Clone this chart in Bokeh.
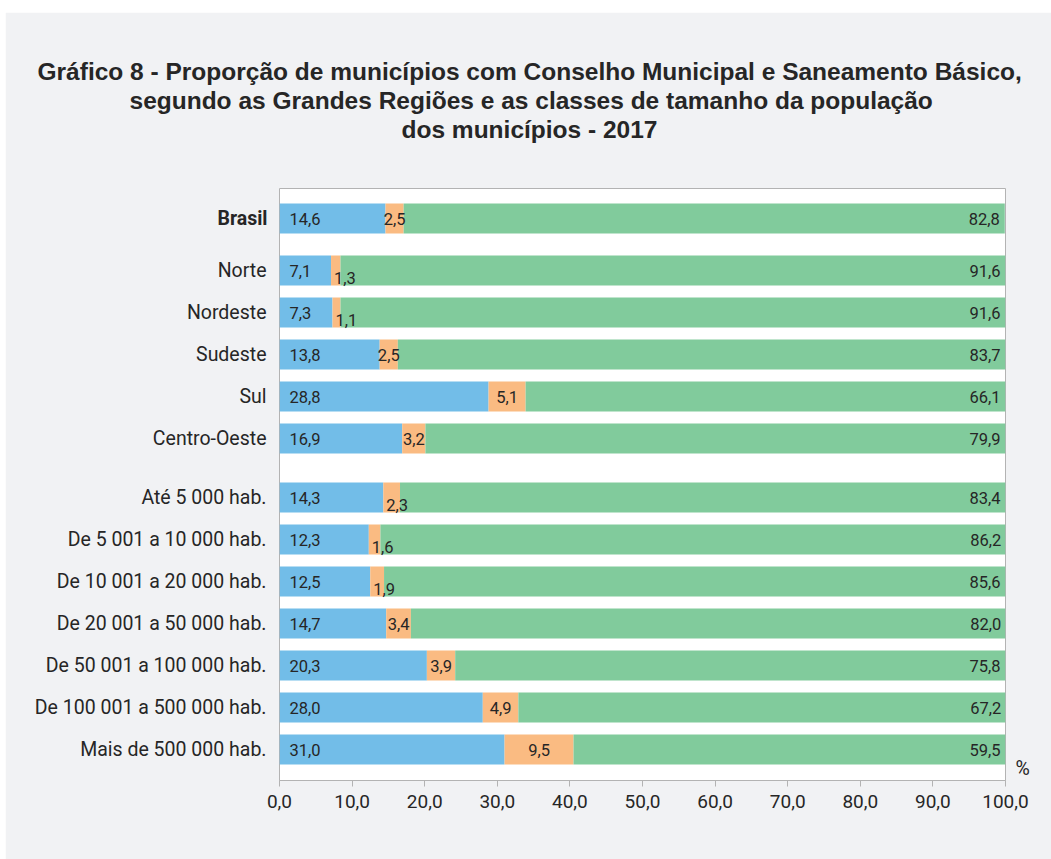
from bokeh.plotting import figure
from bokeh.models import ColumnDataSource, Range1d, FixedTicker, Title, LinearAxis, Spacer
from bokeh.layouts import column, row
from bokeh.embed import file_html
from bokeh.resources import INLINE
from bokeh.core.properties import value

categories = [
    "Brasil", "Norte", "Nordeste", "Sudeste", "Sul", "Centro-Oeste",
    "Até 5 000 hab.", "De 5 001 a 10 000 hab.", "De 10 001 a 20 000 hab.",
    "De 20 001 a 50 000 hab.", "De 50 001 a 100 000 hab.",
    "De 100 001 a 500 000 hab.", "Mais de 500 000 hab.",
]
serie_azul = [14.6, 7.1, 7.3, 13.8, 28.8, 16.9, 14.3, 12.3, 12.5, 14.7, 20.3, 28.0, 31.0]
serie_laranja = [2.5, 1.3, 1.1, 2.5, 5.1, 3.2, 2.3, 1.6, 1.9, 3.4, 3.9, 4.9, 9.5]
serie_verde = [82.8, 91.6, 91.6, 83.7, 66.1, 79.9, 83.4, 86.2, 85.6, 82.0, 75.8, 67.2, 59.5]
x_ticks = [0, 10, 20, 30, 40, 50, 60, 70, 80, 90, 100]
unit_label = "%"

title_lines = [
    "Gráfico 8 - Proporção de municípios com Conselho Municipal e Saneamento Básico,",
    "segundo as Grandes Regiões e as classes  de tamanho da população",
    "dos municípios - 2017",
]

BLUE = "#72bde8"
ORANGE = "#fabb82"
GREEN = "#81cb9c"
BG = "#f1f2f4"
TXT = "#262626"
FONT = "Roboto"
TFONT = "Liberation Sans"
LBL_SIZE = "19.5px"

def fmt(v):
    return f"{v:.1f}".replace(".", ",")

# row layout (frame pixel units, top = 0)
n = len(categories)
ypos = [30 + 42 * i + (10 if i >= 1 else 0) + (17 if i >= 6 else 0) for i in range(n)]

a_end = serie_azul
l_end = [a + l for a, l in zip(serie_azul, serie_laranja)]
v_end = [a + l + v for a, l, v in zip(serie_azul, serie_laranja, serie_verde)]

src = ColumnDataSource(dict(
    y=ypos, zero=[0] * n, a_end=a_end, l_end=l_end, v_end=v_end,
    a_txt=[fmt(v) for v in serie_azul],
    v_txt=[fmt(v) for v in serie_verde],
))

small = [i for i in range(n) if serie_laranja[i] < 2.5]
big = [i for i in range(n) if serie_laranja[i] >= 2.5]
src_ls = ColumnDataSource(dict(
    x=[a_end[i] for i in small], y=[ypos[i] for i in small],
    t=[fmt(serie_laranja[i]) for i in small]))
src_lb = ColumnDataSource(dict(
    x=[(a_end[i] + l_end[i]) / 2 for i in big], y=[ypos[i] for i in big],
    t=[fmt(serie_laranja[i]) for i in big]))

p = figure(width=1046, height=847, output_backend="svg", toolbar_location=None,
           x_range=Range1d(0, 100), y_range=Range1d(592, 0), title=None,
           min_border_left=274, min_border_right=46, min_border_top=176,
           min_border_bottom=79)
p.background_fill_color = "white"
p.border_fill_color = BG
p.outline_line_color = "#b3b3b3"
p.outline_line_width = 1
p.grid.visible = False

bh = 30
p.hbar(y="y", left="zero", right="a_end", height=bh, source=src, fill_color=BLUE, line_color=None)
p.hbar(y="y", left="a_end", right="l_end", height=bh, source=src, fill_color=ORANGE, line_color=None)
p.hbar(y="y", left="l_end", right="v_end", height=bh, source=src, fill_color=GREEN, line_color=None)

common = dict(text_font=value(FONT), text_font_size="16.5px", text_color=TXT, text_baseline="middle")
p.text(x="zero", y="y", text="a_txt", source=src, x_offset=10, text_align="left", **common)
p.text(x="v_end", y="y", text="v_txt", source=src, x_offset=-5, text_align="right", **common)
p.text(x="x", y="y", text="t", source=src_lb, text_align="center", **common)
p.text(x="x", y="y", text="t", source=src_ls, x_offset=3, y_offset=7, text_align="left", **common)

# x axis
xa = p.xaxis[0]
xa.ticker = FixedTicker(ticks=x_ticks)
xa.major_label_overrides = {t: fmt(t) for t in x_ticks}
xa.axis_line_color = "#b3b3b3"
xa.major_tick_line_color = "#b3b3b3"
xa.major_tick_in = 0
xa.major_tick_out = 6
xa.minor_tick_line_color = None
xa.major_label_standoff = 8
xa.major_label_text_font = FONT
xa.major_label_text_font_size = "19px"
xa.major_label_text_color = TXT

def style_cat_axis(ax):
    ax.axis_line_color = None
    ax.major_tick_line_color = None
    ax.minor_tick_line_color = None
    ax.major_tick_in = 0
    ax.major_tick_out = 0
    ax.major_label_text_font = FONT
    ax.major_label_text_font_size = LBL_SIZE
    ax.major_label_text_color = TXT

# inner y axis: "Brasil" in bold
ya = p.yaxis[0]
ya.ticker = FixedTicker(ticks=[ypos[0]])
ya.major_label_overrides = {ypos[0]: categories[0]}
style_cat_axis(ya)
ya.major_label_standoff = 12
ya.major_label_text_font_style = "bold"

# outer y axis: other categories, pulled back next to the frame
ya2 = LinearAxis(ticker=FixedTicker(ticks=ypos[1:]),
                 major_label_overrides={y: c for y, c in zip(ypos[1:], categories[1:])})
style_cat_axis(ya2)
ya2.major_label_standoff = -52
p.add_layout(ya2, "left")

# right axis: unit
pct_y = ypos[-1] + 19
ra = LinearAxis(ticker=FixedTicker(ticks=[pct_y]), major_label_overrides={pct_y: unit_label})
style_cat_axis(ra)
ra.major_label_standoff = 10
p.add_layout(ra, "right")

# titles (closest to frame first)
p.add_layout(Title(text=" ", standoff=43, text_font_size="1px"), "above")
offsets = [-242, -150, 122]
for line, off in zip(reversed(title_lines), reversed(offsets)):
    p.add_layout(Title(text=line, align="left", offset=off, standoff=0,
                       text_font=TFONT, text_font_size="24.5px", text_font_style="bold",
                       text_color=TXT), "above")

layout = column(Spacer(height=12, width=1051), row(Spacer(width=5, height=847), p))
open("out.html", "w").write(file_html(layout, INLINE))
